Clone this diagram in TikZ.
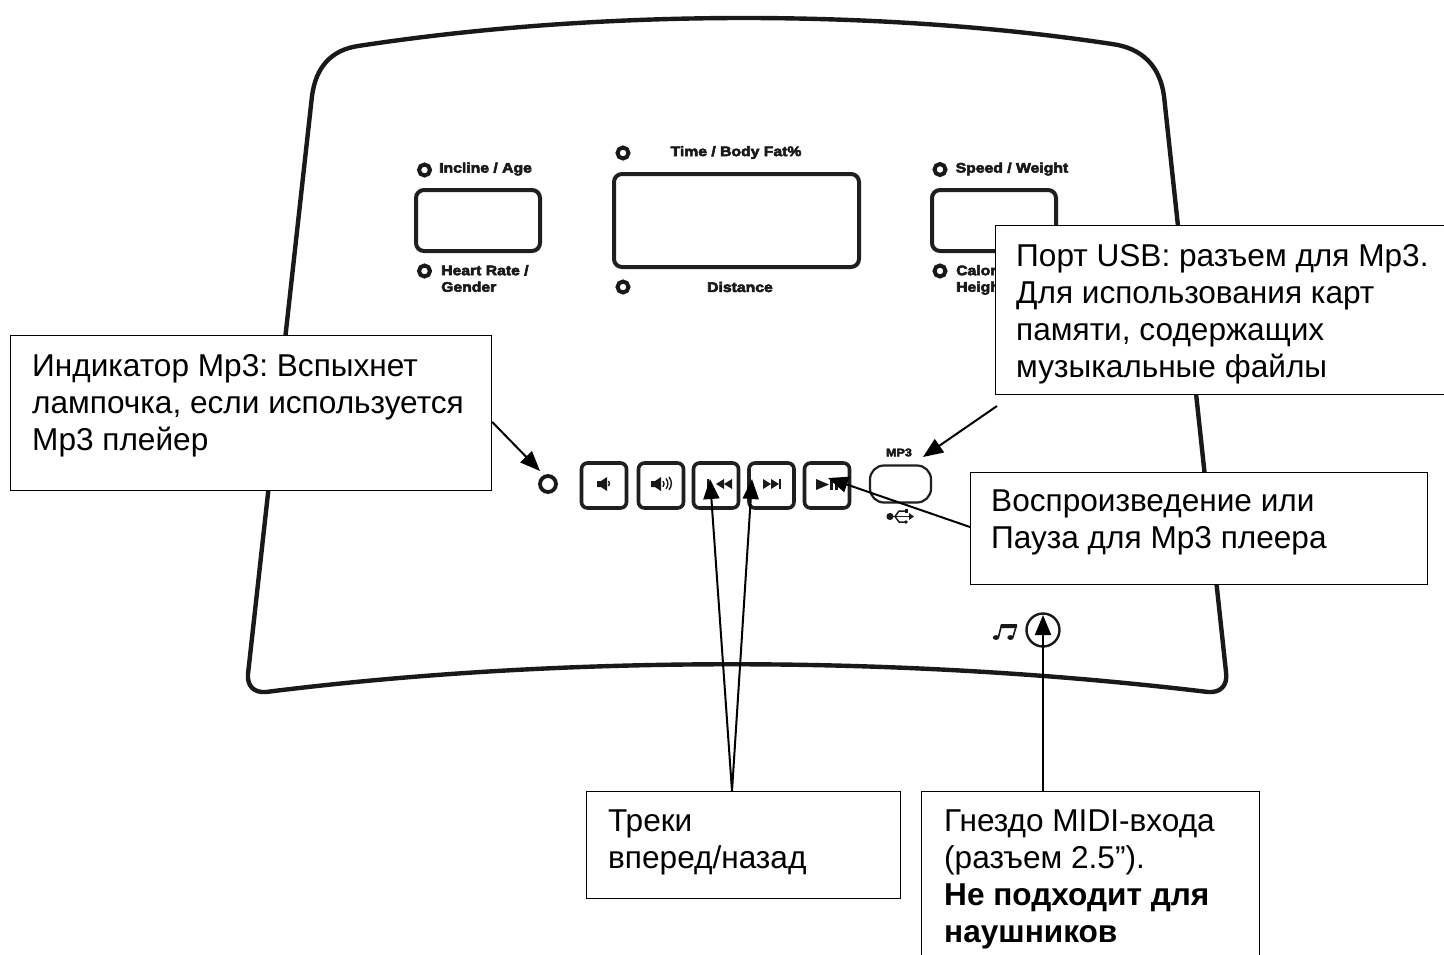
\documentclass[tikz,border=0pt]{standalone}
\usepackage{fontspec}
\setmainfont{Liberation Sans}
\frenchspacing
\newfontfamily\panelfont[FakeStretch=1.14,FakeBold=4]{Liberation Sans Bold}
\usetikzlibrary{arrows.meta}
\tikzset{
  panelline/.style={line width=4.4pt,draw=black!90},
  dispbox/.style={line width=4pt,draw=black!88,rounded corners=8pt},
  keybox/.style={line width=3.6pt,draw=black!88,rounded corners=6pt},
  ledring/.style={circle,line width=4pt,draw=black!90,inner sep=0pt,minimum size=11pt},
  panellabel/.style={font=\panelfont\fontsize{13.8}{16.5}\selectfont,inner sep=0pt,text=black!90,align=left},
  callout/.style={draw=black,line width=1.2pt,fill=white,inner sep=0pt},
  callouttext/.style={font=\fontsize{31.6}{37}\selectfont,inner sep=0pt,align=left,anchor=north west},
  pointer/.style={line width=2pt,-{Triangle[length=20pt,width=16pt]}},
  icon/.style={fill=black!90,draw=none}
}
\begin{document}
\begin{tikzpicture}[x=1pt,y=-1pt]
\clip (0,0) rectangle (1444,954);
\fill[white] (0,0) rectangle (1444,954);
% panel outline
\draw[panelline,line join=round]
  (358,46) .. controls (600,9) and (880,9) .. (1112,44)
  .. controls (1142,48) and (1160,66) .. (1164,96)
  -- (1226,672) .. controls (1228,686) and (1220,693) .. (1208,692)
  .. controls (900,655) and (560,655) .. (266,692)
  .. controls (254,693) and (247,686) .. (248,674)
  -- (312,96) .. controls (316,66) and (332,50) .. (358,46) -- cycle;
% displays
\node[dispbox,minimum width=124pt,minimum height=61pt,anchor=north west] (dispL) at (414,188) {};
\node[dispbox,minimum width=245pt,minimum height=93pt,anchor=north west] (dispC) at (612,172) {};
\node[dispbox,minimum width=124pt,minimum height=61pt,anchor=north west] (dispR) at (930,188) {};
% LEDs
\node[ledring] (l1) at (424.5,170) {};
\node[ledring] (l2) at (424.5,271) {};
\node[ledring] (l3) at (623,153) {};
\node[ledring] (l4) at (623,287) {};
\node[ledring] (l5) at (940,169.5) {};
\node[ledring] (l6) at (940,271) {};
% panel labels
\node[panellabel,anchor=west] (t1) at (439,169) {Incline / Age};
\node[panellabel,anchor=north west] (t2) at (441,265) {Heart Rate /\\Gender};
\node[panellabel] (t3) at (736,152.5) {Time / Body Fat\%};
\node[panellabel] (t4) at (740,287) {Distance};
\node[panellabel,anchor=west] (t5) at (955.5,169) {Speed / Weight};
\node[panellabel,anchor=north west] (t6) at (956,265) {Calor\\Heigh};
% keys
\node[keybox,minimum width=45pt,minimum height=45pt] (k1) at (604,485.5) {};
\node[keybox,minimum width=45pt,minimum height=45pt] (k2) at (661,485.5) {};
\node[keybox,minimum width=45pt,minimum height=45pt] (k3) at (716,485.5) {};
\node[keybox,minimum width=45pt,minimum height=45pt] (k4) at (771.5,485.5) {};
\node[keybox,minimum width=45pt,minimum height=45pt] (k5) at (827,485.5) {};
\node[circle,line width=3.8pt,draw=black!90,inner sep=0pt,minimum size=16pt] (mp3led) at (548,484) {};
\node[line width=2.2pt,draw=black!88,rounded corners=14pt,minimum width=61pt,minimum height=37pt] (usbport) at (900.5,484) {};
\node[font=\panelfont\fontsize{11}{12}\selectfont,inner sep=0pt,text=black!90] (mp3t) at (899,452.5) {MP3};
% speaker icons
\fill[icon] (597,481) -- (601,481) -- (607,477) -- (607,491) -- (601,487) -- (597,487) -- cycle;
\draw[line width=1.4pt,black!90] (608.5,481) arc (-40:40:4);
\fill[icon] (651,481) -- (655,481) -- (661,477) -- (661,491) -- (655,487) -- (651,487) -- cycle;
\draw[line width=1.4pt,black!90] (663,481) arc (-40:40:4.5);
\draw[line width=1.4pt,black!90] (666,478.5) arc (-40:40:8);
\draw[line width=1.4pt,black!90] (669,477) arc (-40:40:10);
% previous / next / play icons
\fill[icon] (724,484) -- (732,479) -- (732,489) -- cycle;
\fill[icon] (716,484) -- (724,479) -- (724,489) -- cycle;
\fill[icon] (707,479) rectangle (709,489);
\fill[icon] (763,479) -- (771,484) -- (763,489) -- cycle;
\fill[icon] (771,479) -- (779,484) -- (771,489) -- cycle;
\fill[icon] (779,479) rectangle (781,489);
\fill[icon] (816,479) -- (829,484.5) -- (816,490) -- cycle;
\fill[icon] (830,479) rectangle (833,490);
\fill[icon] (835,479) rectangle (838,490);
% USB symbol
\fill[icon] (890,516.5) circle (3.6pt);
\draw[line width=1.8pt,black!90] (890,516.5) -- (909,516.5);
\fill[icon] (909,513) -- (914,516.5) -- (909,520) -- cycle;
\draw[line width=1.5pt,black!90] (895,516.5) -- (899,511) -- (905,511);
\draw[line width=1.5pt,black!90] (895,516.5) -- (899,522) -- (905,522);
\fill[icon] (905,509) rectangle (908,513);
\fill[icon] (906,522) circle (1.8pt);
% audio jack and music note
\node[circle,line width=2.4pt,draw=black!90,inner sep=0pt,minimum size=33pt] (jack) at (1043,630) {};
\fill[icon] (1001,624) -- (1017,624) -- (1016.4,628) -- (1000.4,628) -- cycle;
\draw[line width=1.6pt,black!90] (1001.5,625) -- (998.5,637);
\draw[line width=1.6pt,black!90] (1016.5,625) -- (1013,637);
\fill[icon] (996,637.5) ellipse (3.2pt and 2.4pt);
\fill[icon] (1010.5,637.5) ellipse (3.2pt and 2.4pt);
% callouts
\node[callout,minimum width=481pt,minimum height=155pt,anchor=north west] (bMp3) at (10,335) {};
\node[callout,minimum width=470pt,minimum height=169pt,anchor=north west] (bUsb) at (995,225) {};
\node[callout,minimum width=457pt,minimum height=112pt,anchor=north west] (bPlay) at (970,472) {};
\node[callout,minimum width=314pt,minimum height=107pt,anchor=north west] (bTrack) at (586,791) {};
\node[callout,minimum width=338pt,minimum height=190pt,anchor=north west] (bMidi) at (921,791) {};
\node[callouttext] (tMp3) at (32,354) {Индикатор Mp3: Вспыхнет\\лампочка, если используется\\Mp3 плейер};
\node[callouttext] (tUsb) at (1016,244) {Порт USB: разъем для Mp3.\\Для использования карт\\памяти, содержащих\\музыкальные файлы};
\node[callouttext] (tPlay) at (991,490) {Воспроизведение или\\Пауза для Mp3 плеера};
\node[callouttext] (tTrack) at (608,810) {Треки\\вперед/назад};
\node[callouttext] (tMidi) at (944,810) {Гнездо MIDI-входа\\(разъем 2.5”).\\\textbf{Не подходит для}\\\textbf{наушников}};
% connector anchors
\coordinate (a1s) at (bMp3.north east |- 0,422);
\coordinate (a1e) at (540,471);
\coordinate (a2s) at (997,406);
\coordinate (a2e) at (923,457);
\coordinate (a3s) at (970,527);
\coordinate (a3e) at (828,478);
\coordinate (a4s) at (732,791);
\coordinate (a4e) at (710,479);
\coordinate (a5e) at (752,479);
\coordinate (a6s) at (1043,791);
\coordinate (a6e) at (1043,615);
\draw[pointer] (a1s) -- (a1e);
\draw[pointer] (a2s) -- (a2e);
\draw[pointer] (a3s) -- (a3e);
\draw[pointer] (a4s) -- (a4e);
\draw[pointer] (a4s) -- (a5e);
\draw[pointer] (a6s) -- (a6e);
\end{tikzpicture}
\end{document}
